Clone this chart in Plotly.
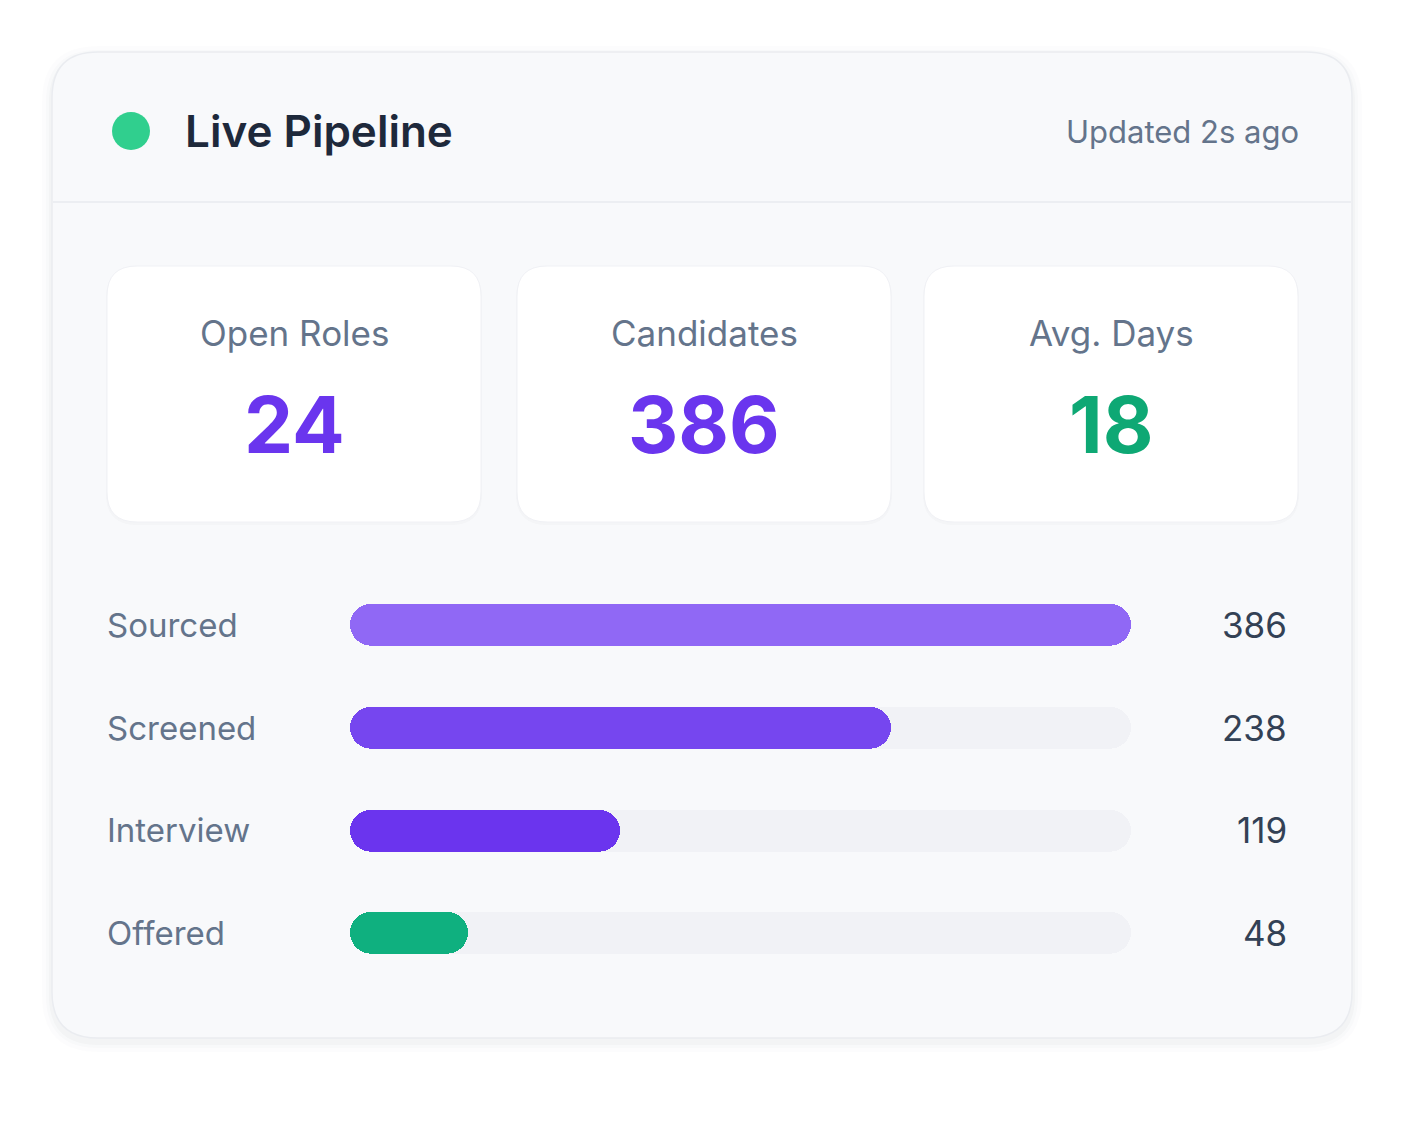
import plotly.graph_objects as go

# ---- data ----
stages = ["Sourced", "Screened", "Interview", "Offered"]
counts = [386, 238, 119, 48]
fill_pct = [100, 69.3, 34.6, 15.1]          # bar fill (% of track)
bar_colors = ["#9068f5", "#7646ef", "#6b34ee", "#0fb07f"]
kpi_labels = ["Open Roles", "Candidates", "Avg. Days"]
kpi_values = ["24", "386", "18"]
kpi_colors = ["#6a35ee", "#6a35ee", "#0ea874"]
title_text = "Live Pipeline"
updated_text = "Updated 2s ago"

W, H = 1402, 1122
FONT = "Inter"

fig = go.Figure()


def rrect(x0, y0, x1, y1, r):
    return (f"M {x0+r},{y0} L {x1-r},{y0} Q {x1},{y0} {x1},{y0+r} "
            f"L {x1},{y1-r} Q {x1},{y1} {x1-r},{y1} L {x0+r},{y1} "
            f"Q {x0},{y1} {x0},{y1-r} L {x0},{y0+r} Q {x0},{y0} {x0+r},{y0} Z")


shapes = []
# outer card shadow
for d, a in [(10, 0.010), (6, 0.015), (3, 0.022)]:
    shapes.append(dict(type="path", xref="x", yref="y", layer="below",
                       path=rrect(52 - d, 52 - d + 4, 1352 + d, 1038 + d + 4, 46 + d),
                       fillcolor=f"rgba(30,41,59,{a})", line=dict(width=0)))
# outer card
shapes.append(dict(type="path", xref="x", yref="y", layer="below",
                   path=rrect(52, 52, 1352, 1038, 46),
                   fillcolor="#f8f9fb", line=dict(color="#eaecf0", width=1.5)))
# header divider
shapes.append(dict(type="line", xref="x", yref="y", layer="below",
                   x0=53, x1=1351, y0=202, y1=202,
                   line=dict(color="#e8eaef", width=1.5)))
# live dot
shapes.append(dict(type="circle", xref="x", yref="y", layer="below",
                   x0=112, x1=150, y0=112, y1=150,
                   fillcolor="#30cf8e", line=dict(width=0)))

# KPI cards
card_x = [(107, 481), (517, 891), (924, 1298)]
annotations = []
for (x0, x1), lab, val, col in zip(card_x, kpi_labels, kpi_values, kpi_colors):
    shapes.append(dict(type="path", xref="x", yref="y", layer="below",
                       path=rrect(x0 - 1, 267, x1 + 1, 525, 31),
                       fillcolor="rgba(30,41,59,0.02)", line=dict(width=0)))
    shapes.append(dict(type="path", xref="x", yref="y", layer="below",
                       path=rrect(x0, 266, x1, 522, 30),
                       fillcolor="#ffffff", line=dict(color="#f0f1f5", width=1)))
    cx = (x0 + x1) / 2
    annotations.append(dict(x=cx, y=333, xref="x", yref="y", text=lab,
                            showarrow=False, xanchor="center", yanchor="middle",
                            font=dict(family=FONT, size=35, color="#64748b")))
    annotations.append(dict(x=cx, y=424, xref="x", yref="y", text=val,
                            showarrow=False, xanchor="center", yanchor="middle",
                            font=dict(family=FONT, size=78, color=col, weight=700)))

# header text
annotations.append(dict(x=183, y=131, xref="x", yref="y", text=title_text,
                        showarrow=False, xanchor="left", yanchor="middle",
                        font=dict(family=FONT, size=44, color="#1e293b", weight=600)))
annotations.append(dict(x=1301, y=131, xref="x", yref="y", text=updated_text,
                        showarrow=False, xanchor="right", yanchor="middle",
                        font=dict(family=FONT, size=31, color="#64748b")))

# bar labels & values
for s, c in zip(stages, counts):
    annotations.append(dict(x=105 / W, y=s, xref="paper", yref="y2", text=s,
                            showarrow=False, xanchor="left", yanchor="middle",
                            font=dict(family=FONT, size=33, color="#64748b")))
    annotations.append(dict(x=1289 / W, y=s, xref="paper", yref="y2", text=str(c),
                            showarrow=False, xanchor="right", yanchor="middle",
                            font=dict(family=FONT, size=35, color="#334155")))

# ---- bars (explicit base => both ends rounded) ----
BW = 0.41
track = [100] * len(stages)
zero = [0] * len(stages)

fig.add_trace(go.Bar(y=stages, x=track, base=zero,
                     orientation="h", width=BW, xaxis="x2", yaxis="y2",
                     marker=dict(color="#f1f2f6", cornerradius="50%", line=dict(width=0)),
                     hoverinfo="skip", showlegend=False))
fig.add_trace(go.Bar(y=stages, x=fill_pct, base=zero,
                     orientation="h", width=BW, xaxis="x2", yaxis="y2",
                     marker=dict(color=bar_colors, cornerradius="50%", line=dict(width=0)),
                     hoverinfo="skip", showlegend=False))

# invisible anchor trace for the pixel helper axes
fig.add_trace(go.Scatter(x=[0], y=[0], mode="markers", marker=dict(opacity=0),
                         hoverinfo="skip", showlegend=False, xaxis="x", yaxis="y"))

row_top, row_bot = 573.7, 984.3
fig.update_layout(
    width=W, height=H, margin=dict(l=0, r=0, t=0, b=0),
    paper_bgcolor="#ffffff", plot_bgcolor="rgba(0,0,0,0)",
    barmode="overlay", bargap=0,
    xaxis=dict(range=[0, W], domain=[0, 1], visible=False, fixedrange=True),
    yaxis=dict(range=[H, 0], domain=[0, 1], visible=False, fixedrange=True),
    xaxis2=dict(range=[0, 100], domain=[350 / W, 1131 / W], visible=False,
                anchor="y2", fixedrange=True),
    yaxis2=dict(type="category", categoryorder="array", categoryarray=stages,
                range=[3.5, -0.5], domain=[1 - row_bot / H, 1 - row_top / H],
                visible=False, anchor="x2", fixedrange=True),
    shapes=shapes, annotations=annotations,
)

fig.write_html("out.html")
